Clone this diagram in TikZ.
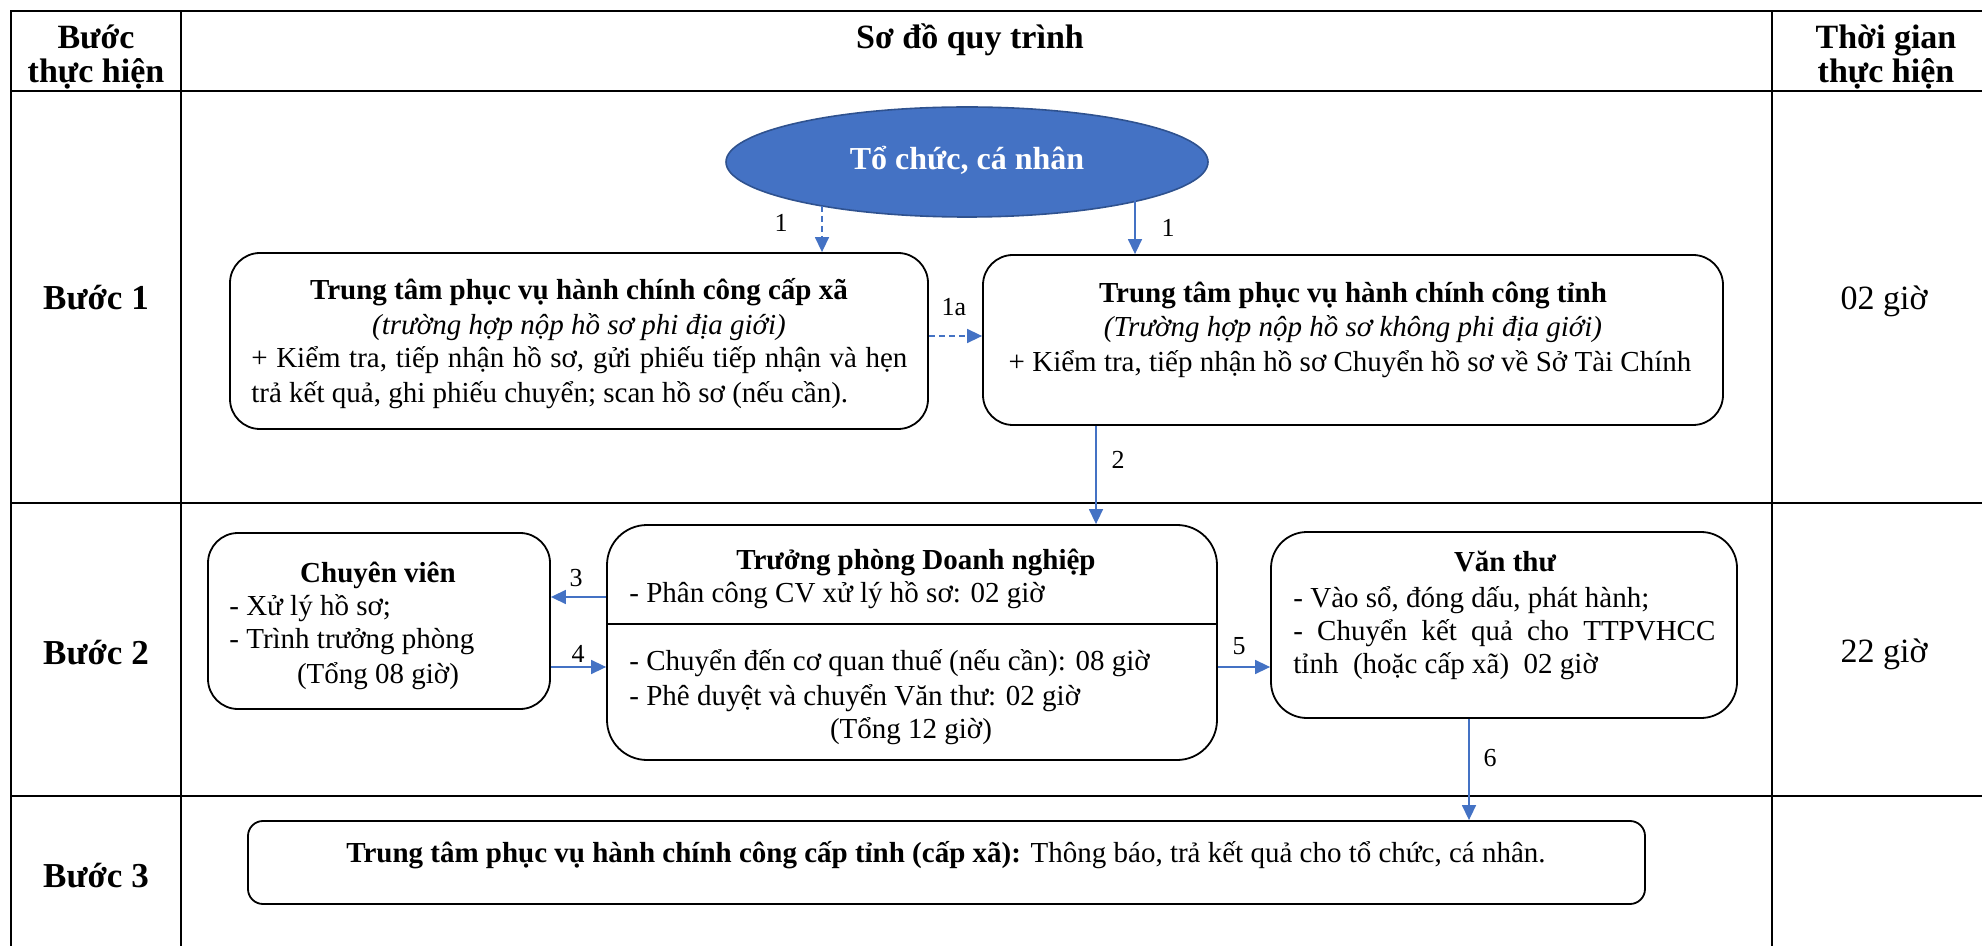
\documentclass[tikz,border=0pt]{standalone}
\usepackage{fontspec}
\setmainfont{Liberation Serif}
\usetikzlibrary{arrows.meta,shapes.geometric}
\definecolor{arrowblue}{HTML}{4472C4}
\definecolor{ellfill}{HTML}{4472C4}
\definecolor{ellborder}{HTML}{2F528F}
\begin{document}
\begin{tikzpicture}[x=0.5pt,y=-0.5pt,
  tbl/.style={line width=1.15pt,draw=black,line cap=rect},
  box/.style={draw=black,line width=0.9pt,inner sep=0pt,rectangle},
  conn/.style={draw=arrowblue,line width=0.75pt,-{Triangle[length=7.5pt,width=7pt]}},
  dconn/.style={conn,dash pattern=on 3pt off 2pt},
  lbl/.style={font=\fontsize{13}{15}\selectfont,inner sep=0pt},
  txt/.style={font=\fontsize{14.5}{17}\selectfont,inner sep=0pt,anchor=base},
  txtb/.style={txt,font=\fontsize{14.5}{17}\selectfont\bfseries},
  txti/.style={txt,font=\fontsize{14.5}{17}\selectfont\itshape},
  txtl/.style={txt,anchor=base west},
  hdr/.style={font=\fontsize{17}{20}\selectfont\bfseries,inner sep=0pt,anchor=base},
  steplbl/.style={font=\fontsize{17.5}{20}\selectfont\bfseries,inner sep=0pt,anchor=base},
  timelbl/.style={font=\fontsize{17}{20}\selectfont,inner sep=0pt,anchor=base}]
\useasboundingbox (0,0) rectangle (1982,946);
\clip (0,0) rectangle (1982,946);
% table grid
\draw[tbl] (11,11) -- (2100,11);
\draw[tbl] (11,91) -- (2100,91);
\draw[tbl] (11,503) -- (2100,503);
\draw[tbl] (11,796) -- (2100,796);
\draw[tbl] (11,11) -- (11,1000);
\draw[tbl] (181,11) -- (181,1000);
\draw[tbl] (1772,11) -- (1772,1000);
% headers
\node[hdr] (h1a) at (96,49) {Bước};
\node[hdr] (h1b) at (96,83) {thực hiện};
\node[hdr] (h2) at (970,49) {Sơ đồ quy trình};
\node[hdr] (h3a) at (1886,49) {Thời gian};
\node[hdr] (h3b) at (1886,83) {thực hiện};
% step labels and times
\node[steplbl] (s1) at (96,310) {Bước 1};
\node[steplbl] (s2) at (96,664) {Bước 2};
\node[steplbl] (s3) at (96,887) {Bước 3};
\node[timelbl] (t1) at (1884,310) {02 giờ};
\node[timelbl] (t2) at (1884,662) {22 giờ};
% ellipse
\node[ellipse,draw=ellborder,fill=ellfill,line width=0.8pt,minimum width=241pt,minimum height=55pt,inner sep=0pt] (org) at (967,162) {};
\node[font=\fontsize{16}{19}\selectfont\bfseries,text=white,inner sep=0pt,anchor=base] (orgt) at (967,170) {Tổ chức, cá nhân};
% boxes
\node[box,rounded corners=15pt,minimum width=349pt,minimum height=88pt] (xa) at (579,341) {};
\node[box,rounded corners=15pt,minimum width=370pt,minimum height=85pt] (tinh) at (1353,340) {};
\node[box,rounded corners=20pt,minimum width=305pt,minimum height=117.5pt] (tp) at (912,642.5) {};
\node[box,rounded corners=15pt,minimum width=171pt,minimum height=88pt] (cv) at (379,621) {};
\node[box,rounded corners=18pt,minimum width=233pt,minimum height=93pt] (vt) at (1504,625) {};
\node[box,rounded corners=7.5pt,minimum width=698.5pt,minimum height=41.5pt] (b3) at (946.5,862.5) {};
\coordinate (dv) at (0,624);
\draw[line width=1.3pt] (tp.west |- dv) -- (tp.east |- dv);
% texts: xa
\node[txtb] (xa1) at (579,300) {Trung tâm phục vụ hành chính công cấp xã};
\node[txti] (xa2) at (579,335) {(trường hợp nộp hồ sơ phi địa giới)};
\node[txtl] (xa3) at (251,368) {\makebox[328pt][s]{+ Kiểm tra, tiếp nhận hồ sơ, gửi phiếu tiếp nhận và hẹn}};
\node[txtl] (xa4) at (251,403) {trả kết quả, ghi phiếu chuyển; scan hồ sơ (nếu cần).};
% texts: tinh
\node[txtb] (ti1) at (1353,303) {Trung tâm phục vụ hành chính công tỉnh};
\node[txti] (ti2) at (1353,337) {(Trường hợp nộp hồ sơ không phi địa giới)};
\node[txt] (ti3) at (1350,372) {+ Kiểm tra, tiếp nhận hồ sơ Chuyển hồ sơ về Sở Tài Chính};
% texts: truong phong
\node[txtb] (tp1) at (916,569) {Trưởng phòng Doanh nghiệp};
\node[txtl] (tp2) at (629,603) {- Phân công CV xử lý hồ sơ: 02 giờ};
\node[txtl] (tp3) at (629,670) {- Chuyển đến cơ quan thuế (nếu cần): 08 giờ};
\node[txtl] (tp4) at (629,705) {- Phê duyệt và chuyển Văn thư: 02 giờ};
\node[txt] (tp5) at (911,738) {(Tổng 12 giờ)};
% texts: chuyen vien
\node[txtb] (cv1) at (378,582) {Chuyên viên};
\node[txtl] (cv2) at (229,615) {- Xử lý hồ sơ;};
\node[txtl] (cv3) at (229,648) {- Trình trưởng phòng};
\node[txt] (cv4) at (378,683) {(Tổng 08 giờ)};
% texts: van thu
\node[txtb] (vt1) at (1505,572) {Văn thư};
\node[txtl] (vt2) at (1293,607) {- Vào sổ, đóng dấu, phát hành;};
\node[txtl] (vt3) at (1293,640) {\makebox[211pt][s]{- Chuyển kết quả cho TTPVHCC}};
\node[txtl] (vt4) at (1293,673) {tỉnh\ \ (hoặc cấp xã)\ \ 02 giờ};
% texts: buoc 3
\node[txt] (b3t) at (946,862) {\textbf{Trung tâm phục vụ hành chính công cấp tỉnh (cấp xã):} Thông báo, trả kết quả cho tổ chức, cá nhân.};
% connectors
\coordinate (e1) at (822,206);
\coordinate (e2) at (1135,200);
\draw[dconn] (e1) -- (e1 |- xa.north);
\draw[conn] (e2) -- (e2 |- tinh.north);
\coordinate (y1a) at (0,336);
\draw[dconn] (xa.east |- y1a) -- (tinh.west |- y1a);
\coordinate (x2) at (1096,0);
\draw[conn] (tinh.south -| x2) -- (tp.north -| x2);
\coordinate (y3) at (0,597);
\draw[conn] (tp.west |- y3) -- (cv.east |- y3);
\coordinate (y4) at (0,667);
\draw[conn] (cv.east |- y4) -- (tp.west |- y4);
\draw[conn] (tp.east |- y4) -- (vt.west |- y4);
\coordinate (x6) at (1469,0);
\draw[conn] (vt.south -| x6) -- (b3.north -| x6);
% connector labels
\node[lbl] (l1a) at (781,223) {1};
\node[lbl] (l1b) at (1168,228) {1};
\node[lbl] (l1c) at (954,307) {1a};
\node[lbl] (l2) at (1118,460) {2};
\node[lbl] (l3) at (576,578) {3};
\node[lbl] (l4) at (578,654) {4};
\node[lbl] (l5) at (1239,646) {5};
\node[lbl] (l6) at (1490,758) {6};
\end{tikzpicture}
\end{document}
